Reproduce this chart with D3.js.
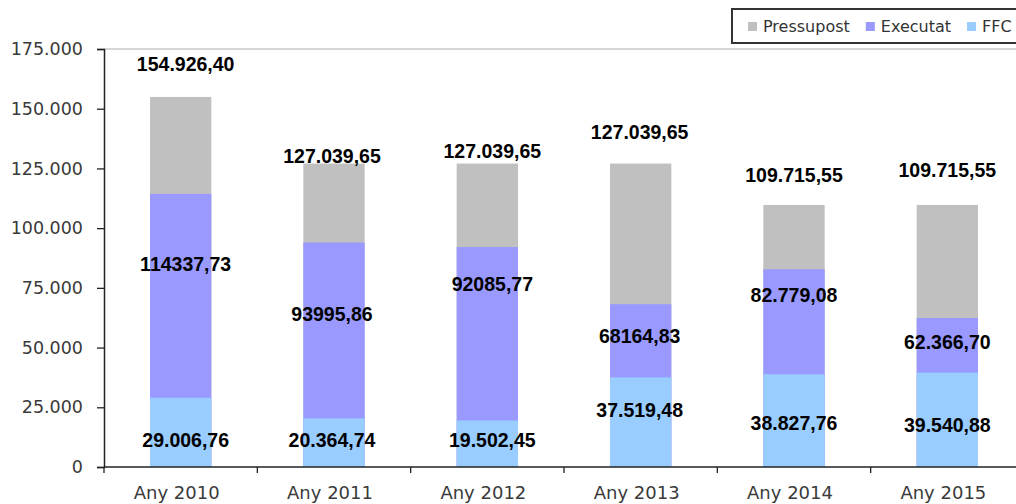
<!DOCTYPE html>
<html>
<head>
<meta charset="utf-8">
<script src="https://cdn.jsdelivr.net/npm/d3@7"></script>
<style>
  body { margin: 0; background: #fff; }
  svg { display: block; }
</style>
</head>
<body>
<svg id="chart" width="1016" height="504"></svg>
<script>
// data
var years = ["Any 2010", "Any 2011", "Any 2012", "Any 2013", "Any 2014", "Any 2015"];
var seriesNames = ["Pressupost", "Executat", "FFC"];
var pressupost = [154926.40, 127039.65, 127039.65, 127039.65, 109715.55, 109715.55];
var executat = [114337.73, 93995.86, 92085.77, 68164.83, 82779.08, 62366.70];
var ffc = [29006.76, 20364.74, 19502.45, 37519.48, 38827.76, 39540.88];
// the first four "Executat" labels are printed without thousands separator
var executatGrouped = [false, false, false, false, true, true];
var yTicks = [0, 25000, 50000, 75000, 100000, 125000, 150000, 175000];

var colors = ["#c0c0c0", "#9999ff", "#99ccff"];

var ca = d3.formatLocale({decimal: ",", thousands: ".", grouping: [3], currency: ["", "€"]});
var fmtGroup = ca.format(",.2f");
var fmtPlain = ca.format(".2f");
var fmtTick = ca.format(",.0f");

var svg = d3.select("#chart");

var x = d3.scaleBand()
    .domain(years)
    .range([104, 1024])
    .paddingInner(0.6)
    .paddingOuter(0.3);

var y = d3.scaleLinear()
    .domain([0, 175000])
    .range([467, 49]);

// top border of plot area
svg.append("line")
    .attr("x1", 104).attr("x2", 1024)
    .attr("y1", y(175000)).attr("y2", y(175000))
    .attr("stroke", "#c8c8c8").attr("stroke-width", 1.5);

// bars: each series drawn from zero, overlapping
var series = [pressupost, executat, ffc];
series.forEach(function(vals, s) {
    svg.append("g").selectAll("rect")
        .data(vals)
        .join("rect")
        .attr("x", function(d, i) { return x(years[i]); })
        .attr("y", function(d) { return y(d); })
        .attr("width", x.bandwidth())
        .attr("height", function(d) { return y(0) - y(d); })
        .attr("fill", colors[s]);
});

// y axis
var yAxis = svg.append("g")
    .attr("transform", "translate(104,0)")
    .call(d3.axisLeft(y).tickValues(yTicks).tickSize(7).tickPadding(14).tickFormat(fmtTick));
yAxis.select(".domain").attr("stroke", "#222").attr("stroke-width", 1.5);
yAxis.selectAll(".tick line").attr("stroke", "#222").attr("stroke-width", 1.3);
yAxis.selectAll("text")
    .attr("font-family", "'DejaVu Sans', sans-serif")
    .attr("font-size", 17.5)
    .attr("fill", "#3a3a3a");

// x axis: ticks between categories
var step = x.step();
var bounds = d3.range(years.length + 1).map(function(i) { return 104 + i * step; });
var xAxis = svg.append("g");
xAxis.append("line")
    .attr("x1", 104).attr("x2", 1024)
    .attr("y1", y(0)).attr("y2", y(0))
    .attr("stroke", "#222").attr("stroke-width", 1.5);
xAxis.selectAll("line.tk")
    .data(bounds)
    .join("line")
    .attr("class", "tk")
    .attr("x1", function(d) { return d; }).attr("x2", function(d) { return d; })
    .attr("y1", y(0)).attr("y2", y(0) + 6)
    .attr("stroke", "#222").attr("stroke-width", 1.3);
xAxis.selectAll("text")
    .data(years)
    .join("text")
    .attr("x", function(d) { return x(d) + x.bandwidth() / 2 - 4; })
    .attr("y", 499)
    .attr("text-anchor", "middle")
    .attr("font-family", "'DejaVu Sans', sans-serif")
    .attr("font-size", 18)
    .attr("fill", "#3a3a3a")
    .text(function(d) { return d; });

// value labels, nudged like the hand-placed ones in the original
var nudgeTotal = [-32.5, -8, -13, -32, -29.5, -34.5];
var nudgeExec = [70.5, 71.5, 37, 31.3, 26.2, 24];
var nudgeFfc = [42.3, 22, 19.6, 32.6, 49, 52.4];
var nudgeX = [5, -2, 5, -1, 0, 0];

function addLabels(vals, nudge, fmt) {
    svg.append("g").selectAll("text")
        .data(vals)
        .join("text")
        .attr("x", function(d, i) { return x(years[i]) + x.bandwidth() / 2 + nudgeX[i]; })
        .attr("y", function(d, i) { return y(d) + nudge[i]; })
        .attr("dy", "0.36em")
        .attr("text-anchor", "middle")
        .attr("font-family", "'Liberation Sans', Arial, sans-serif")
        .attr("font-weight", "bold")
        .attr("font-size", 19.5)
        .attr("fill", "#000")
        .text(fmt);
}
addLabels(pressupost, nudgeTotal, function(d) { return fmtGroup(d); });
addLabels(executat, nudgeExec, function(d, i) { return executatGrouped[i] ? fmtGroup(d) : fmtPlain(d); });
addLabels(ffc, nudgeFfc, function(d) { return fmtGroup(d); });

// legend
var legend = svg.append("g");
legend.append("rect")
    .attr("x", 732).attr("y", 9)
    .attr("width", 320).attr("height", 34)
    .attr("fill", "#fff")
    .attr("stroke", "#333").attr("stroke-width", 2);
var lx = 748;
seriesNames.forEach(function(name, i) {
    legend.append("rect")
        .attr("x", lx).attr("y", 22)
        .attr("width", 9).attr("height", 9)
        .attr("fill", colors[i]);
    var t = legend.append("text")
        .attr("x", lx + 15).attr("y", 32)
        .attr("font-family", "'DejaVu Sans', sans-serif")
        .attr("font-size", 16)
        .attr("fill", "#333")
        .text(name);
    lx += 15 + t.node().getComputedTextLength() + 16;
});
</script>
</body>
</html>
